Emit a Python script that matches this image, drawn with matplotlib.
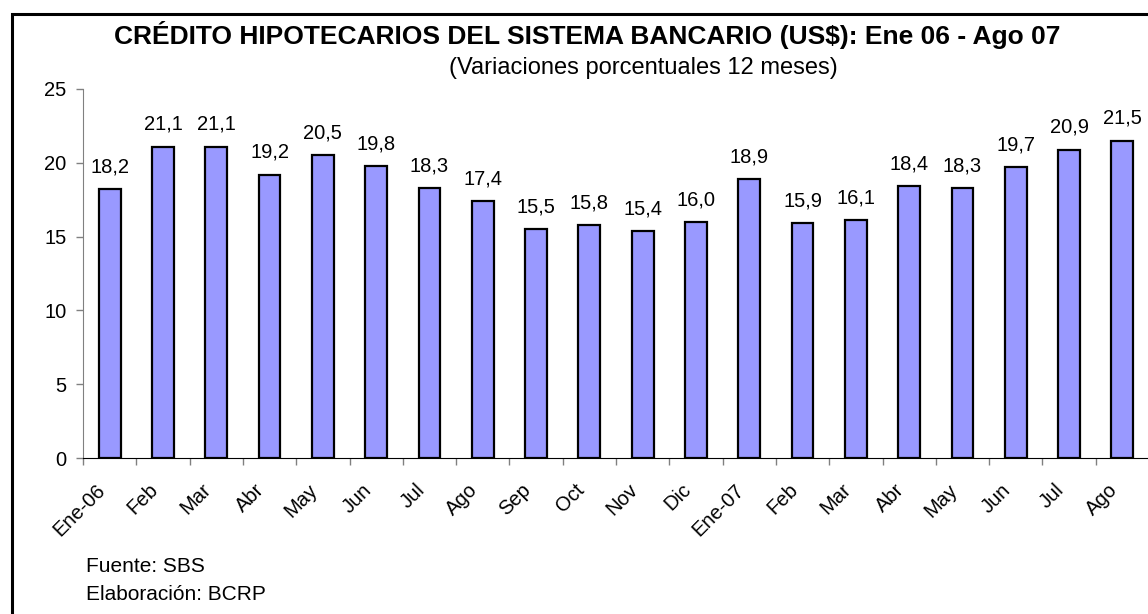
import numpy as np
from matplotlib import pyplot as plt
from matplotlib.patches import Rectangle
from matplotlib.transforms import ScaledTranslation

months = ["Ene-06", "Feb", "Mar", "Abr", "May", "Jun", "Jul", "Ago", "Sep", "Oct",
          "Nov", "Dic", "Ene-07", "Feb", "Mar", "Abr", "May", "Jun", "Jul", "Ago"]
growth = [18.2, 21.1, 21.1, 19.2, 20.5, 19.8, 18.3, 17.4, 15.5, 15.8,
          15.4, 16.0, 18.9, 15.9, 16.1, 18.4, 18.3, 19.7, 20.9, 21.5]
y_ticks = [0, 5, 10, 15, 20, 25]

plt.rcParams["font.family"] = ["Liberation Sans", "DejaVu Sans"]

W, H = 1148, 614
fig = plt.figure(figsize=(W / 100, H / 100), dpi=100)
ax = fig.add_axes([83 / W, (H - 458) / H, 1066 / W, 369 / H])

x = np.arange(len(months))
ax.bar(x, growth, width=0.41, color="#9999FF", edgecolor="black", linewidth=1.6, zorder=3)

for xi, v in zip(x, growth):
    ax.annotate(f"{v:.1f}".replace(".", ","), (xi, v), xytext=(0, 12), textcoords="offset points",
                ha="center", va="baseline", fontsize=14.5)

ax.set_xlim(-0.5, len(months) - 0.5)
ax.set_ylim(0, 25)
ax.set_yticks(y_ticks)
ax.tick_params(axis="y", direction="out", length=5, width=1, color="#808080", labelsize=14.5, pad=7)

# labels under bars, tick marks between categories
ax.set_xticks(x)
ax.set_xticklabels(months, rotation=45, ha="right", rotation_mode="anchor", fontsize=14.5)
ax.set_xticks(np.arange(len(months) + 1) - 0.5, minor=True)
ax.tick_params(axis="x", which="major", length=0, pad=16)
ax.tick_params(axis="x", which="minor", direction="out", length=5, width=1, color="#808080")
shift = ScaledTranslation(-10.5 / 72, 0, fig.dpi_scale_trans)
for lab in ax.get_xticklabels():
    lab.set_transform(lab.get_transform() + shift)

for side in ["top", "right"]:
    ax.spines[side].set_visible(False)
ax.spines["left"].set_color("#808080")
ax.spines["bottom"].set_color("black")

fig.text(587 / W, 1 - 44 / H, "CRÉDITO HIPOTECARIOS DEL SISTEMA BANCARIO (US$): Ene 06 - Ago 07",
         ha="center", va="baseline", fontsize=19, fontweight="bold")
fig.text(643 / W, 1 - 74 / H, "(Variaciones porcentuales 12 meses)",
         ha="center", va="baseline", fontsize=17)
fig.text(86 / W, 1 - 572 / H, "Fuente: SBS", ha="left", va="baseline", fontsize=15)
fig.text(86 / W, 1 - 600 / H, "Elaboración: BCRP", ha="left", va="baseline", fontsize=15)

fig.patches.append(Rectangle((11.5 / W, -0.05), 1.1, 1 - 13.5 / H + 0.05, transform=fig.transFigure,
                             fill=False, edgecolor="black", linewidth=2.2))

fig.savefig("out.png", dpi=100)
